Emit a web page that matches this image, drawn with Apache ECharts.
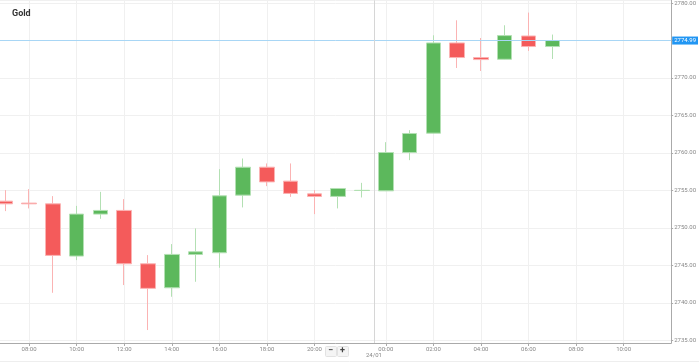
<!DOCTYPE html>
<html>
<head>
<meta charset="utf-8">
<script src="https://cdn.jsdelivr.net/npm/echarts@6/dist/echarts.min.js"></script>
<style>
html,body{margin:0;padding:0;background:#fff;}
#chart{width:699px;height:363px;}
</style>
</head>
<body>
<div id="chart"></div>
<script>
// Hourly slots (22:00 session break skipped); index = position on the x scale
const categories = [
  '23/01 06:00','23/01 07:00','23/01 08:00','23/01 09:00','23/01 10:00','23/01 11:00',
  '23/01 12:00','23/01 13:00','23/01 14:00','23/01 15:00','23/01 16:00','23/01 17:00',
  '23/01 18:00','23/01 19:00','23/01 20:00','23/01 21:00','23/01 23:00',
  '24/01 00:00','24/01 01:00','24/01 02:00','24/01 03:00','24/01 04:00','24/01 05:00',
  '24/01 06:00','24/01 07:00','24/01 08:00','24/01 09:00','24/01 10:00','24/01 11:00','24/01 12:00'
];
// OHLC for each slot ('-' = no candle)
const opens  = ['-',2753.56,2753.30,2753.20,2746.23,2751.83,2752.32,2745.20,2742.00,2746.45,2746.67,2754.36,2758.09,2756.23,2754.53,2754.19,2754.98,2754.93,2760.05,2762.63,2774.67,2772.72,2772.49,2775.60,2774.19,'-','-','-','-','-'];
const closes = ['-',2753.20,2753.20,2746.32,2751.83,2752.32,2745.20,2741.92,2746.45,2746.80,2754.27,2758.09,2756.13,2754.59,2754.19,2755.25,2755.00,2760.05,2762.59,2774.67,2772.72,2772.45,2775.65,2774.19,2774.99,'-','-','-','-','-'];
const lows   = ['-',2752.23,2752.59,2741.33,2745.69,2751.20,2742.36,2736.36,2740.80,2742.80,2744.67,2752.72,2755.56,2754.13,2751.83,2752.59,2754.05,2754.90,2759.03,2762.60,2771.33,2770.93,2772.45,2773.60,2772.53,'-','-','-','-','-'];
const highs  = ['-',2755.03,2755.16,2754.23,2752.93,2754.80,2753.83,2746.36,2747.83,2749.92,2757.83,2759.25,2758.59,2758.59,2755.03,2755.25,2756.00,2761.43,2763.03,2775.69,2777.69,2775.33,2777.03,2778.72,2775.79,'-','-','-','-','-'];
const yMin = 2734.63, yMax = 2780.36;
const xMin = 0.778, xMax = 29;
const dayLabel = '24/01';

const candleData = [];
categories.forEach((c, i) => {
  if (opens[i] !== '-') candleData.push([i, opens[i], closes[i], lows[i], highs[i]]);
});
const lastClose = candleData[candleData.length - 1][2];
const dayStartIdx = categories.findIndex(c => c.startsWith(dayLabel));
const dividerPos = dayStartIdx - 0.5;

const timeOf = v => v.split(' ')[1];
const evenTicks = [];
categories.forEach((c, i) => {
  if (i > 0 && i < categories.length - 1 && parseInt(timeOf(c), 10) % 2 === 0) evenTicks.push(i);
});

const FONT = 'Roboto, "Liberation Sans", sans-serif';
const chart = echarts.init(document.getElementById('chart'));
chart.setOption({
  animation: false,
  backgroundColor: '#fff',
  title: {
    text: 'Gold', left: 7, top: 4,
    textStyle: { fontSize: 9, fontWeight: 'bold', color: '#333', fontFamily: FONT }
  },
  grid: { left: 0, right: 24, top: 0, bottom: 20, containLabel: false },
  xAxis: {
    type: 'value', min: xMin, max: xMax,
    axisLine: { show: true, onZero: false, lineStyle: { color: '#aaa', width: 1 } },
    axisTick: { show: true, customValues: evenTicks, length: 3, lineStyle: { color: '#aaa' } },
    axisLabel: {
      customValues: evenTicks, formatter: v => timeOf(categories[Math.round(v)]),
      fontSize: 6, color: '#888', margin: 3, fontFamily: FONT
    },
    splitLine: { show: true, lineStyle: { color: '#f0f0f0', width: 1 } }
  },
  yAxis: {
    type: 'value', position: 'right', min: yMin, max: yMax, splitNumber: 9, scale: true,
    axisLine: { show: true, lineStyle: { color: '#aaa', width: 1 } },
    axisTick: { show: true, length: 2, lineStyle: { color: '#aaa' } },
    axisLabel: {
      showMinLabel: false, showMaxLabel: false,
      formatter: v => v.toFixed(2), fontSize: 6, color: '#888', margin: 3, fontFamily: FONT
    },
    splitLine: { show: true, lineStyle: { color: '#f0f0f0', width: 1 } }
  },
  series: [{
    type: 'candlestick',
    data: candleData,
    barWidth: 15,
    clip: true,
    itemStyle: {
      color: '#5cb85c', color0: '#f45b5b',
      borderColor: '#b3e0b3', borderColor0: '#fbb3b3', borderWidth: 1
    },
    markLine: {
      silent: true, symbol: 'none', animation: false,
      data: [{ yAxis: lastClose }],
      lineStyle: { color: '#a8d6f5', type: 'solid', width: 1 },
      label: {
        position: 'end', formatter: lastClose.toFixed(2), distance: 1,
        backgroundColor: '#2196f3', color: '#fff', fontSize: 6, padding: [1, 2], fontFamily: FONT
      }
    }
  }, {
    type: 'line', data: [], silent: true,
    markLine: {
      silent: true, symbol: 'none', animation: false,
      data: [{ xAxis: dividerPos }],
      lineStyle: { color: '#d6d6d6', type: 'solid', width: 1 },
      label: { position: 'start', formatter: dayLabel, fontSize: 6, color: '#888', distance: 9, fontFamily: FONT }
    }
  }],
  graphic: [
    { type: 'line', shape: { x1: 0, y1: 361.5, x2: 699, y2: 361.5 }, style: { stroke: '#eee', lineWidth: 1 } },
    { type: 'rect', left: 325, top: 346, shape: { width: 11, height: 10, r: 1 }, style: { fill: '#f4f4f4', stroke: '#e2e2e2' } },
    { type: 'rect', left: 337, top: 346, shape: { width: 11, height: 10, r: 1 }, style: { fill: '#f4f4f4', stroke: '#e2e2e2' } },
    { type: 'text', left: 328, top: 346, style: { text: '−', fontSize: 9, fontWeight: 'bold', fill: '#444', fontFamily: FONT } },
    { type: 'text', left: 340, top: 346, style: { text: '+', fontSize: 9, fontWeight: 'bold', fill: '#444', fontFamily: FONT } }
  ]
});
</script>
</body>
</html>
